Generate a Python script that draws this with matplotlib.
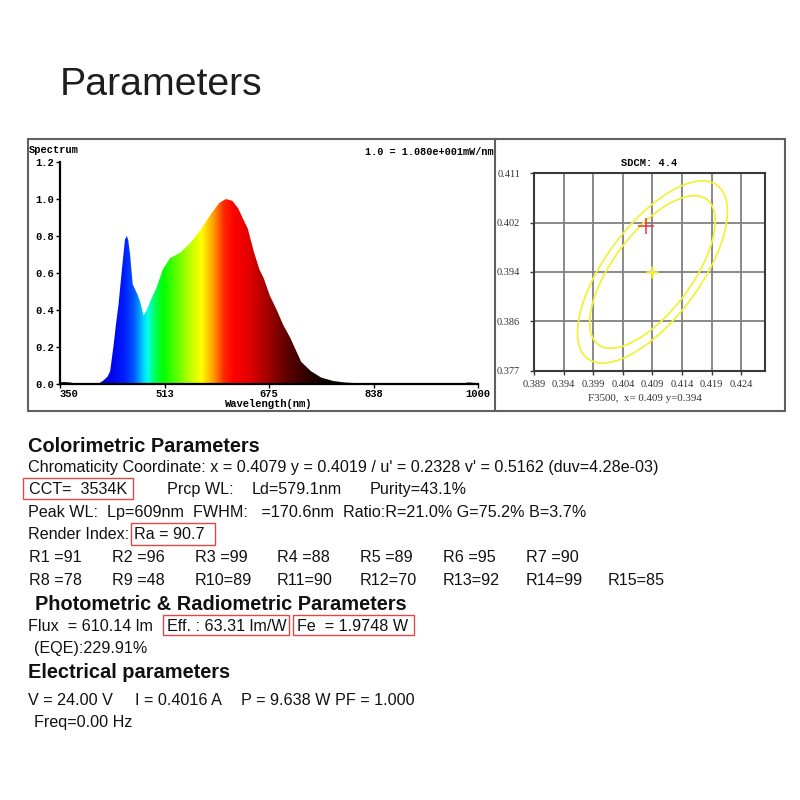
import numpy as np
import matplotlib
matplotlib.use("Agg")
import matplotlib.pyplot as plt
from matplotlib.patches import Rectangle, Polygon, Ellipse
from matplotlib.colors import LinearSegmentedColormap

# ---------------- data ----------------
wavelength_nm = [350, 358, 366, 374, 385, 400, 410, 418, 424, 428, 433, 437, 441, 446,
                 451, 454, 456, 459, 463, 467, 471, 475, 480, 485, 492, 500, 510, 521,
                 537, 552, 568, 585, 598, 608, 618, 627, 635, 642, 651, 660, 667, 676,
                 687, 697, 708, 725, 740, 756, 775, 793, 815, 835, 860, 950, 975, 985,
                 995, 1000]
relative_power = [0.010, 0.010, 0.008, 0.002, 0.0, 0.0, 0.002, 0.02, 0.04, 0.07, 0.20, 0.32,
                  0.43, 0.61, 0.78, 0.80, 0.78, 0.70, 0.54, 0.51, 0.48, 0.44, 0.37, 0.40,
                  0.46, 0.52, 0.62, 0.68, 0.71, 0.76, 0.83, 0.92, 0.98, 1.00, 0.99, 0.95,
                  0.89, 0.84, 0.72, 0.62, 0.57, 0.48, 0.40, 0.32, 0.25, 0.12, 0.07, 0.035,
                  0.016, 0.008, 0.004, 0.001, 0.0, 0.0, 0.003, 0.008, 0.006, 0.0]
spectrum_xticks = [350, 513, 675, 838, 1000]
spectrum_yticks = [0.0, 0.2, 0.4, 0.6, 0.8, 1.0, 1.2]

cie_xticks = [0.389, 0.394, 0.399, 0.404, 0.409, 0.414, 0.419, 0.424]
cie_yticks = [0.377, 0.3855, 0.394, 0.4025, 0.411]
cie_ytick_labels = ["0.377", "0.386", "0.394", "0.402", "0.411"]
measured_xy = (0.4079, 0.4019)
reference_xy = (0.409, 0.394)
ellipse_semi_major = [0.0185, 0.0155]
ellipse_semi_minor = [0.0080, 0.0067]
ellipse_angle_deg = 54

cri_values = [91, 96, 99, 88, 89, 95, 90, 78, 48, 89, 90, 70, 92, 99, 85]

W = H = 800
fig = plt.figure(figsize=(8, 8), dpi=100)
fig.patch.set_facecolor("white")

def fx(px):
    return px / W

def fy(py):
    return 1 - py / H

SANS = ["Liberation Sans", "DejaVu Sans"]
MONO = ["Liberation Mono", "DejaVu Sans Mono"]
SERIF = ["Liberation Serif", "DejaVu Serif"]
TXT = "#111111"

# ---------------- title ----------------
fig.text(fx(60), fy(95), "Parameters", fontsize=28.3, family=SANS, color="#1e1e1e", va="baseline")

# ---------------- outer frames ----------------
frame_col = "#606060"
fig.add_artist(Rectangle((fx(28), fy(411)), fx(785 - 28), (411 - 139) / H, fill=False,
                         edgecolor=frame_col, linewidth=1.5, transform=fig.transFigure))
fig.add_artist(plt.Line2D([fx(495), fx(495)], [fy(139), fy(411)], color=frame_col,
                          linewidth=1.5, transform=fig.transFigure))

# ---------------- spectrum ----------------
ax = fig.add_axes([fx(60), fy(384), (478 - 60) / W, (384 - 162) / H])
ax.set_xlim(350, 1000)
ax.set_ylim(0, 1.2)
stops = [(350, (0, 0, 0)), (395, (30, 0, 90)), (415, (10, 0, 200)), (435, (0, 10, 240)),
         (450, (0, 30, 255)), (465, (0, 90, 255)), (478, (0, 200, 255)), (486, (0, 255, 240)),
         (497, (0, 255, 90)), (510, (0, 255, 0)), (535, (110, 255, 0)), (552, (190, 255, 0)),
         (570, (255, 255, 0)), (588, (255, 160, 0)), (605, (255, 40, 0)), (620, (255, 0, 0)),
         (645, (225, 0, 0)), (670, (170, 0, 0)), (700, (100, 0, 0)), (735, (45, 0, 0)),
         (770, (10, 0, 0)), (1000, (0, 0, 0))]
cm = LinearSegmentedColormap.from_list(
    "spec", [((w - 350) / 650, tuple(c / 255 for c in col)) for w, col in stops], N=1024)
grad = np.linspace(0, 1, 1300).reshape(1, -1)
im = ax.imshow(grad, cmap=cm, extent=(350, 1000, 0, 1.2), aspect="auto", origin="lower",
               interpolation="bilinear", zorder=1)
verts = [(wavelength_nm[0], 0)] + list(zip(wavelength_nm, relative_power)) + [(wavelength_nm[-1], 0)]
poly = Polygon(verts, closed=True, facecolor="none", edgecolor="none")
ax.add_patch(poly)
im.set_clip_path(poly)

for s in ["top", "right"]:
    ax.spines[s].set_visible(False)
for s in ["left", "bottom"]:
    ax.spines[s].set_linewidth(1.6)
    ax.spines[s].set_color("black")
ax.set_xticks(spectrum_xticks)
ax.set_xticklabels([str(v) for v in spectrum_xticks])
ax.set_yticks(spectrum_yticks)
ax.set_yticklabels([f"{v:.1f}" for v in spectrum_yticks])
ax.tick_params(axis="both", direction="out", length=3, width=1, color="black", pad=1.5,
               labelsize=7.6)
ax.tick_params(axis="x", pad=0.5)
for lab in ax.get_xticklabels() + ax.get_yticklabels():
    lab.set_family(MONO)
    lab.set_fontweight("bold")
ax.get_xticklabels()[0].set_ha("left")
ax.set_xlabel("Wavelength(nm)", family=MONO, fontweight="bold", fontsize=7.6, labelpad=0)
fig.text(fx(29), fy(150), "Spectrum", family=MONO, fontweight="bold", fontsize=7.5,
         va="center", ha="left")
fig.text(fx(494), fy(152), "1.0 = 1.080e+001mW/nm", family=MONO, fontweight="bold",
         fontsize=7.3, va="center", ha="right")

# ---------------- chromaticity ----------------
cx = fig.add_axes([fx(534), fy(370.7), (765 - 534) / W, (370.7 - 173.3) / H])
cx.set_xlim(0.389, 0.4280)
cx.set_ylim(0.377, 0.411)
cx.set_xticks(cie_xticks)
cx.set_xticklabels([f"{v:.3f}" for v in cie_xticks])
cx.set_yticks(cie_yticks)
cx.set_yticklabels(cie_ytick_labels)
cx.grid(True, color="#808080", linewidth=1.3)
cx.set_axisbelow(True)
for s in cx.spines.values():
    s.set_color("#3a3a3a")
    s.set_linewidth(1.5)
cx.tick_params(axis="both", direction="out", length=3, width=1, color="#3a3a3a",
               labelsize=7.5, labelcolor="#333333")
cx.tick_params(axis="y", pad=7)
for lab in cx.get_xticklabels() + cx.get_yticklabels():
    lab.set_family(SERIF)
for a, b in zip(ellipse_semi_major, ellipse_semi_minor):
    cx.add_patch(Ellipse(reference_xy, 2 * a, 2 * b, angle=ellipse_angle_deg, fill=False,
                         edgecolor="#f2f23a", linewidth=1.3, zorder=3))
cx.plot([measured_xy[0]], [measured_xy[1]], marker="+", color="#e8343c", markersize=11,
        markeredgewidth=1.1, zorder=4)
cx.plot([reference_xy[0]], [reference_xy[1]], marker="+", color="#eeee40", markersize=9,
        markeredgewidth=1.8, zorder=4)
cx.set_title("SDCM: 4.4", family=MONO, fontweight="bold", fontsize=7.5, pad=5)
fig.text(fx(645), fy(398), "F3500,  x= 0.409 y=0.394", family=SERIF, fontsize=7.8,
         ha="center", va="center", color="#333333")

# ---------------- text block ----------------
FS = 11.6
BFS = 14.4
def t(x, y, s, bold=False, size=None):
    fig.text(fx(x), fy(y), s, family=SANS, fontsize=size or (BFS if bold else FS),
             fontweight="bold" if bold else "normal", color=TXT, va="baseline", ha="left")

def box(x0, y0, x1, y1):
    fig.add_artist(Rectangle((fx(x0), fy(y1)), (x1 - x0) / W, (y1 - y0) / H, fill=False,
                             edgecolor="#e04848", linewidth=1.0, transform=fig.transFigure))

t(28, 452, "Colorimetric Parameters", bold=True)
t(28, 472, "Chromaticity Coordinate: x = 0.4079 y = 0.4019 / u' = 0.2328 v' = 0.5162 (duv=4.28e-03)")
t(29, 494, "CCT=  3534K")
box(23, 478, 133, 499)
t(167, 494, "Prcp WL:")
t(252, 494, "Ld=579.1nm")
t(370, 494, "Purity=43.1%")
t(28, 517, "Peak WL:  Lp=609nm  FWHM:   =170.6nm  Ratio:R=21.0% G=75.2% B=3.7%")
t(28, 539, "Render Index:")
t(134, 539, "Ra = 90.7")
box(131, 523, 215, 545)

cols = [29, 112, 195, 277, 360, 443, 526, 608]
for i, v in enumerate(cri_values[:7]):
    t(cols[i], 562, f"R{i + 1:<2}={v}")
for i, v in enumerate(cri_values[7:]):
    t(cols[i], 585, f"R{i + 8:<2}={v}")

t(35, 610, "Photometric & Radiometric Parameters", bold=True)
t(28, 631, "Flux  = 610.14 lm")
t(167, 631, "Eff. : 63.31 lm/W")
box(163, 615, 289, 635)
t(297, 631, "Fe  = 1.9748 W")
box(293, 615, 414, 635)
t(34, 653, "(EQE):229.91%")
t(28, 678, "Electrical parameters", bold=True)
t(28, 705, "V = 24.00 V")
t(135, 705, "I = 0.4016 A")
t(241, 705, "P = 9.638 W PF = 1.000")
t(34, 727, "Freq=0.00 Hz")

fig.savefig("out.png", dpi=100, facecolor="white")
